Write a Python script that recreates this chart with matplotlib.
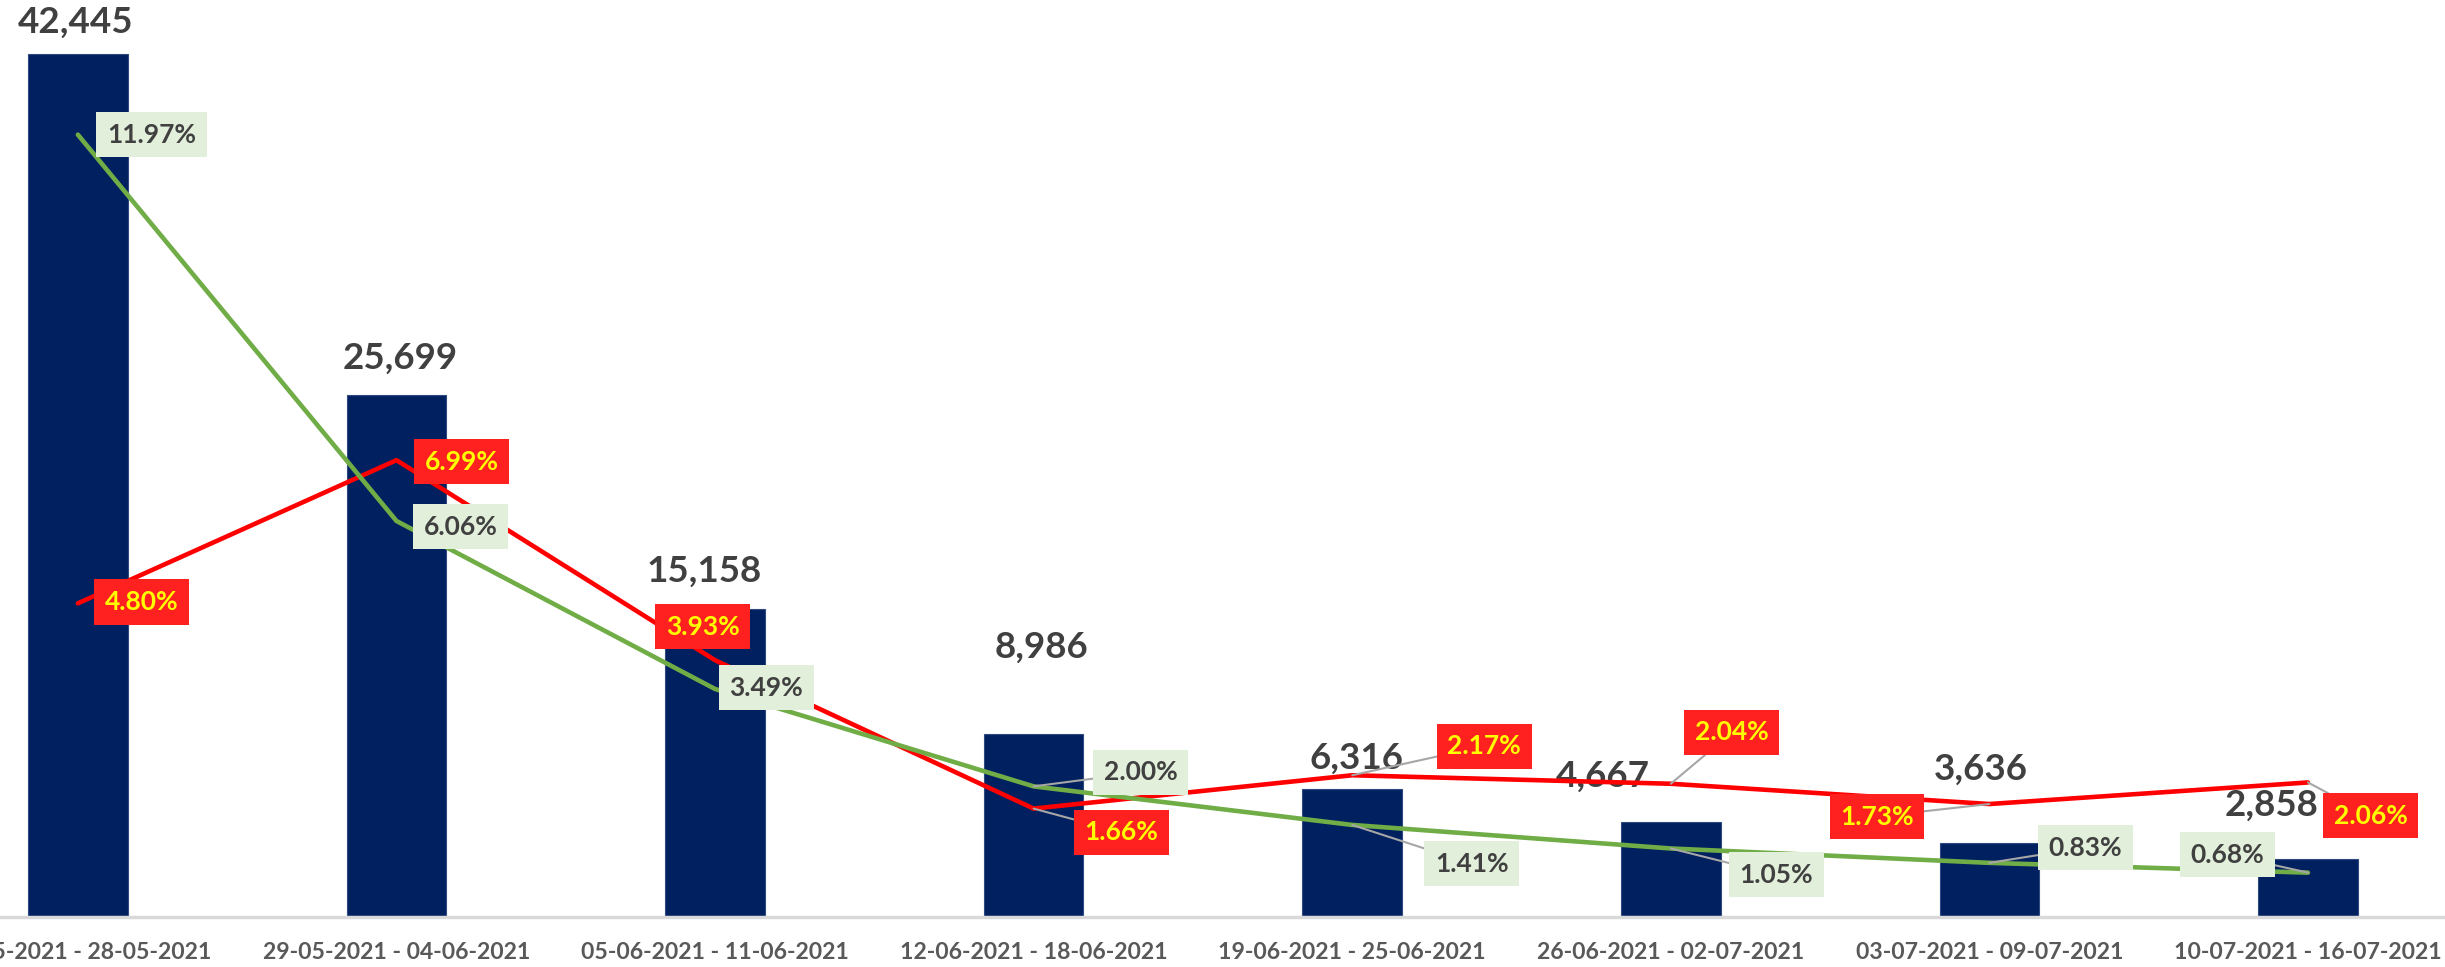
import numpy as np
import matplotlib.pyplot as plt

plt.rcParams['font.family'] = ['Lato', 'DejaVu Sans']

weeks = ["22-05-2021 - 28-05-2021", "29-05-2021 - 04-06-2021", "05-06-2021 - 11-06-2021",
         "12-06-2021 - 18-06-2021", "19-06-2021 - 25-06-2021", "26-06-2021 - 02-07-2021",
         "03-07-2021 - 09-07-2021", "10-07-2021 - 16-07-2021"]
cases = [42445, 25699, 15158, 8986, 6316, 4667, 3636, 2858]
positivity = [11.97, 6.06, 3.49, 2.00, 1.41, 1.05, 0.83, 0.68]   # green line
growth = [4.80, 6.99, 3.93, 1.66, 2.17, 2.04, 1.73, 2.06]        # red line

# label offsets in points (dx, dy)
case_off = [(-2, 23), (3, 26), (-8, 27), (6, 63), (3, 22), (-49, 33), (-6, 53), (-26, 39)]
pos_off = [(53, 0), (46, -4), (37, 1), (77, 10), (86, -28), (76, -19), (69, 11), (-58, 13)]
pos_leader = [False, False, False, True, True, True, True, True]
gr_off = [(46, 1), (47, -1), (-9, 24), (63, -17), (95, 21), (44, 37), (-81, -9), (45, -24)]
gr_leader = [False, False, False, True, True, True, True, True]

fig = plt.figure(figsize=(24.45, 9.67), dpi=100)
ax = fig.add_axes([-0.0333, 0.0516, 1.0424, 0.9484])
x = np.arange(len(weeks))

ax.bar(x, cases, width=0.313, color='#002060', edgecolor='#2F4A80', linewidth=0.8, zorder=1)
ax.set_xlim(-0.5, 7.5)
ax.set_ylim(0, 45126)
ax.set_yticks([])
ax.set_xticks(x)
ax.set_xticklabels(weeks, fontsize=17.5, color='#595959', fontweight='bold')
ax.tick_params(axis='x', length=0, pad=18)
for s in ['top', 'left', 'right']:
    ax.spines[s].set_visible(False)
ax.spines['bottom'].set_color('#D9D9D9')
ax.spines['bottom'].set_linewidth(2.5)

# tick labels are about 266 px wide in the original
fig.canvas.draw()
w = ax.get_xticklabels()[1].get_window_extent(fig.canvas.get_renderer()).width
for lab in ax.get_xticklabels():
    lab.set_fontsize(17.5 * 266 / w)

for i, v in enumerate(cases):
    ax.annotate(f"{v:,}", (i, v), xytext=case_off[i], textcoords='offset points',
                ha='center', va='center', fontsize=26.5, fontweight='bold', color='#404040')

ax2 = ax.twinx()
ax2.set_ylim(0, 14.03)
ax2.set_yticks([])
for s in ['top', 'left', 'right', 'bottom']:
    ax2.spines[s].set_visible(False)

ax2.plot(x, growth, color='#FF0000', lw=3.3, solid_capstyle='round', zorder=3)
ax2.plot(x, positivity, color='#70AD47', lw=3.3, solid_capstyle='round', zorder=4)

for i, v in enumerate(positivity):
    arrow = dict(arrowstyle='-', color='#A6A6A6', lw=1.5, shrinkA=0, shrinkB=0) if pos_leader[i] else None
    ax2.annotate(f"{v:.2f}%", (i, v), xytext=pos_off[i], textcoords='offset points',
                 ha='center', va='center', fontsize=19, fontweight='bold', color='#404040',
                 bbox=dict(boxstyle='square,pad=0.4', fc='#E2EFDA', ec='none'),
                 arrowprops=arrow, zorder=6)

for i, v in enumerate(growth):
    arrow = dict(arrowstyle='-', color='#A6A6A6', lw=1.5, shrinkA=0, shrinkB=0) if gr_leader[i] else None
    ax2.annotate(f"{v:.2f}%", (i, v), xytext=gr_off[i], textcoords='offset points',
                 ha='center', va='center', fontsize=19, fontweight='bold', color='#FFFF00',
                 bbox=dict(boxstyle='square,pad=0.4', fc='#FF2020', ec='none'),
                 arrowprops=arrow, zorder=6)

fig.savefig('out.png', dpi=100)
